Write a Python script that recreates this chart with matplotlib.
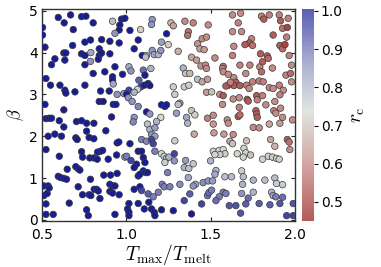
import matplotlib
matplotlib.use("Agg")
import matplotlib.pyplot as plt
from matplotlib.colors import LinearSegmentedColormap, Normalize
from matplotlib.cm import ScalarMappable

# ---- data ----
t_ratio = [
    # T_max/T_melt < 1
    0.597, 0.670, 0.735, 0.761, 0.632, 0.804, 0.686, 0.504, 0.504, 0.919,
    0.972, 0.962, 0.958, 0.933, 0.518, 0.577, 0.557, 0.630, 0.642, 0.636,
    0.682, 0.755, 0.788, 0.854, 0.903, 0.958, 0.735, 0.755, 0.790, 0.788,
    0.840, 0.840, 0.854, 0.834, 0.903, 0.755, 0.804, 0.873, 0.933, 0.978,
    0.919, 0.919, 0.923, 0.524, 0.551, 0.607, 0.636, 0.642, 0.696, 0.755,
    0.848, 0.899, 0.946, 0.986, 0.840, 0.863, 0.923, 0.939, 0.518, 0.630,
    0.524, 0.543, 0.557, 0.603, 0.630, 0.705, 0.735, 0.765, 0.808, 0.765,
    0.879, 0.913, 0.946, 0.956, 0.537, 0.577, 0.616, 0.701, 0.709, 0.780,
    0.808, 0.524, 0.603, 0.735, 0.741, 0.784, 0.808, 0.830, 0.848, 0.860,
    0.828, 0.893, 0.943, 0.992, 0.701, 0.715, 0.725, 0.650, 0.597, 0.611,
    0.630, 0.646, 0.788, 0.867, 0.907, 0.946, 0.512, 0.537, 0.543, 0.512,
    0.531, 0.524, 0.662, 0.715, 0.741, 0.780, 0.790, 0.810, 0.824, 0.834,
    0.844, 0.903, 0.919, 0.933, 0.903, 0.919, 0.958, 0.524, 0.567, 0.765,
    0.775, 0.933,
    # 1 <= T_max/T_melt < 1.5
    0.992, 1.154, 1.150, 1.085, 1.022, 1.265, 1.279, 1.348, 1.397, 1.486,
    1.368, 1.364, 1.239, 1.071, 1.209, 1.249, 1.047, 1.095, 1.120, 1.115,
    1.154, 1.166, 1.190, 1.205, 1.308, 1.423, 1.450, 1.476, 1.437, 1.462,
    1.387, 1.417, 1.443, 1.470, 1.476, 1.338, 1.352, 1.377, 1.423, 1.450,
    1.482, 1.476, 1.016, 1.028, 1.101, 1.111, 1.146, 1.075, 1.087, 1.107,
    1.130, 1.140, 1.016, 1.002, 1.012, 1.035, 1.071, 1.067, 1.047, 1.120,
    1.140, 1.209, 1.229, 1.239, 1.279, 1.288, 1.344, 1.371, 1.318, 1.308,
    1.387, 1.407, 1.298, 1.358, 1.364, 1.205, 1.180, 1.047, 1.041, 1.126,
    1.140, 1.170, 1.150, 1.170, 1.403, 1.482, 1.288, 1.091, 1.120, 1.150,
    1.160, 1.022, 1.071, 1.091, 1.002, 1.028, 1.061, 1.101, 1.111, 1.170,
    1.209, 1.225, 1.239, 1.253, 1.285, 1.285, 1.229, 1.352, 1.344, 1.371,
    1.397, 1.101, 1.115, 1.126, 1.071, 1.081, 1.047, 1.245, 1.368, 1.411,
    1.397, 1.456, 1.486, 1.318, 1.213, 1.225, 1.259, 1.190, 1.047, 1.081,
    1.091, 1.130, 1.160, 1.377, 1.344, 1.447, 1.482, 1.490, 1.016, 1.008,
    1.016, 1.016, 1.071, 1.107, 1.134, 1.150, 1.166, 1.170, 1.209, 1.279,
    1.387,
    # T_max/T_melt >= 1.5
    1.630, 1.678, 1.664, 1.802, 1.816, 1.848, 1.907, 1.915, 1.960, 1.927,
    1.955, 1.630, 1.684, 1.871, 1.951, 1.743, 1.729, 1.704, 1.749, 1.638,
    1.526, 1.630, 1.796, 1.836, 1.842, 1.911, 1.927, 1.941, 1.966, 1.674,
    1.733, 1.792, 1.808, 1.575, 1.571, 1.575, 1.605, 1.709, 1.802, 1.867,
    1.980, 1.947, 1.974, 1.638, 1.650, 1.638, 1.674, 1.605, 1.591, 1.618,
    1.713, 1.729, 1.788, 1.749, 1.812, 1.848, 1.871, 1.907, 1.931, 1.980,
    1.911, 1.506, 1.555, 1.575, 1.571, 1.634, 1.670, 1.717, 1.723, 1.773,
    1.777, 1.808, 1.828, 1.881, 1.670, 1.769, 1.773, 1.777, 1.875, 1.915,
    1.887, 1.516, 1.599, 1.605, 1.664, 1.674, 1.927, 1.986, 1.848, 1.911,
    1.516, 1.753, 1.788, 1.856, 1.955, 1.966, 1.970, 1.520, 1.579, 1.634,
    1.615, 1.630, 1.713, 1.881, 1.516, 1.551, 1.575, 1.585, 1.555, 1.526,
    1.658, 1.698, 1.709, 1.694, 1.737, 1.842, 1.867, 1.891, 1.907, 1.808,
    1.500, 1.532, 1.526, 1.585, 1.624, 1.684, 1.694, 1.753, 1.822, 1.881,
    1.891, 1.927, 1.690, 1.512, 1.506, 1.575, 1.591, 1.551, 1.532, 1.684,
    1.723, 1.753, 1.862, 1.871, 1.887, 1.927, 1.611, 1.650, 1.709, 1.788,
    1.852, 1.911, 1.990, 1.678, 1.951, 1.990,
]

beta = [
    4.84, 4.90, 4.86, 4.87, 4.71, 4.71, 4.55, 4.60, 4.42, 4.75,
    4.80, 4.66, 4.54, 4.46, 4.13, 3.85, 3.71, 3.99, 3.99, 3.82,
    4.17, 4.25, 4.30, 4.31, 4.27, 4.23, 3.97, 3.93, 4.00, 3.79,
    4.09, 3.93, 3.99, 3.84, 3.97, 3.71, 3.50, 3.54, 3.66, 3.48,
    3.42, 3.34, 3.25, 3.38, 3.22, 3.22, 3.10, 3.03, 3.06, 3.22,
    3.08, 3.08, 3.00, 3.02, 2.83, 2.83, 2.76, 2.76, 2.76, 2.63,
    2.42, 2.43, 2.43, 2.37, 2.22, 2.35, 2.37, 2.31, 2.31, 2.12,
    2.13, 2.46, 1.84, 1.86, 2.00, 2.05, 2.00, 1.96, 1.92, 1.97,
    1.94, 1.68, 1.52, 1.63, 1.50, 1.48, 1.48, 1.62, 1.64, 1.66,
    1.45, 1.45, 1.55, 1.50, 1.27, 1.22, 1.19, 1.21, 1.04, 1.01,
    0.99, 0.97, 0.97, 1.07, 1.07, 1.11, 0.81, 0.81, 0.76, 0.58,
    0.63, 0.38, 0.40, 0.79, 0.60, 0.60, 0.58, 0.73, 0.73, 0.69,
    0.51, 0.85, 0.81, 0.81, 0.68, 0.64, 0.60, 0.13, 0.13, 0.24,
    0.10, 0.13,
    4.82, 4.79, 4.67, 4.55, 4.53, 4.71, 4.64, 4.75, 4.71, 4.66,
    4.50, 4.41, 4.45, 4.30, 4.25, 4.19, 4.09, 3.93, 3.93, 3.89,
    4.05, 3.95, 3.95, 4.05, 4.03, 4.21, 4.33, 4.37, 4.09, 4.07,
    3.89, 3.82, 3.68, 3.70, 3.62, 3.63, 3.50, 3.50, 3.36, 3.30,
    3.36, 3.05, 3.66, 3.56, 3.58, 3.46, 3.62, 3.34, 3.18, 3.22,
    3.26, 3.21, 3.10, 3.00, 2.92, 2.83, 2.71, 3.12, 3.05, 2.58,
    2.53, 2.75, 2.71, 2.75, 3.18, 3.00, 3.18, 3.22, 2.79, 2.76,
    2.61, 2.51, 2.55, 2.45, 2.31, 2.45, 2.35, 2.45, 2.34, 2.29,
    2.16, 2.20, 2.04, 2.00, 2.05, 2.43, 1.89, 1.92, 1.88, 1.92,
    1.82, 1.82, 1.64, 1.64, 1.52, 1.42, 1.33, 1.49, 1.37, 1.64,
    1.58, 1.52, 1.47, 1.50, 1.58, 1.41, 1.37, 1.42, 1.25, 1.23,
    1.34, 1.17, 1.13, 1.13, 1.05, 1.09, 1.25, 1.13, 1.01, 0.85,
    0.81, 0.89, 0.93, 0.85, 0.85, 0.79, 0.79, 0.66, 0.73, 0.79,
    0.70, 0.62, 0.55, 0.62, 0.46, 0.38, 0.58, 0.65, 0.39, 0.26,
    0.18, 0.10, 0.39, 0.26, 0.42, 0.26, 0.18, 0.10, 0.24, 0.22,
    0.14,
    4.90, 4.94, 4.71, 4.87, 4.80, 4.90, 4.90, 4.76, 4.82, 4.58,
    4.60, 4.50, 4.50, 4.42, 4.37, 4.33, 4.23, 4.19, 4.17, 4.15,
    3.87, 3.93, 3.97, 3.92, 3.86, 4.17, 4.09, 4.19, 3.93, 3.70,
    3.70, 3.66, 3.78, 3.67, 3.62, 3.54, 3.48, 3.50, 3.54, 3.63,
    3.70, 3.46, 3.50, 3.40, 3.29, 3.21, 3.21, 3.22, 3.20, 3.29,
    3.22, 3.14, 3.32, 3.30, 3.30, 3.16, 3.14, 3.22, 3.10, 3.30,
    2.99, 3.06, 3.00, 2.97, 2.76, 2.89, 2.92, 2.88, 2.84, 2.97,
    2.87, 2.97, 2.75, 2.83, 2.69, 2.61, 2.53, 2.45, 2.61, 2.67,
    2.55, 2.50, 2.39, 2.31, 2.47, 2.51, 2.45, 2.39, 2.29, 2.31,
    2.29, 2.21, 2.20, 1.92, 1.92, 1.86, 1.68, 2.08, 2.05, 2.04,
    1.88, 1.82, 1.89, 1.76, 1.64, 1.66, 1.68, 1.58, 1.56, 1.56,
    1.58, 1.71, 1.60, 1.50, 1.55, 1.52, 1.50, 1.47, 1.45, 1.45,
    1.41, 1.18, 1.09, 1.03, 1.03, 1.17, 1.03, 0.95, 0.95, 1.00,
    0.87, 0.84, 0.85, 0.93, 0.71, 0.66, 0.63, 0.55, 0.46, 0.63,
    0.52, 0.66, 0.66, 0.58, 0.55, 0.54, 0.34, 0.34, 0.38, 0.39,
    0.36, 0.39, 0.39, 0.16, 0.10, 0.10,
]

r_c = [
    1.00, 1.00, 1.00, 1.00, 1.00, 1.00, 1.00, 1.00, 1.00, 0.78,
    1.00, 1.00, 1.00, 0.85, 1.00, 1.00, 1.00, 1.00, 1.00, 1.00,
    1.00, 1.00, 1.00, 1.00, 1.00, 1.00, 1.00, 1.00, 0.82, 0.85,
    1.00, 1.00, 1.00, 1.00, 1.00, 1.00, 1.00, 1.00, 1.00, 1.00,
    1.00, 1.00, 0.82, 1.00, 1.00, 1.00, 1.00, 1.00, 1.00, 1.00,
    1.00, 1.00, 0.85, 0.85, 1.00, 1.00, 1.00, 1.00, 1.00, 1.00,
    1.00, 1.00, 1.00, 1.00, 1.00, 1.00, 1.00, 1.00, 1.00, 1.00,
    1.00, 1.00, 1.00, 1.00, 1.00, 1.00, 1.00, 1.00, 1.00, 1.00,
    1.00, 1.00, 1.00, 1.00, 1.00, 1.00, 1.00, 1.00, 1.00, 1.00,
    1.00, 1.00, 1.00, 0.85, 1.00, 1.00, 1.00, 1.00, 1.00, 1.00,
    1.00, 1.00, 1.00, 1.00, 1.00, 1.00, 1.00, 1.00, 1.00, 1.00,
    1.00, 1.00, 1.00, 1.00, 1.00, 1.00, 1.00, 1.00, 1.00, 1.00,
    1.00, 1.00, 1.00, 1.00, 1.00, 1.00, 1.00, 1.00, 1.00, 1.00,
    1.00, 1.00,
    1.00, 0.85, 0.85, 0.72, 1.00, 0.68, 0.65, 0.62, 0.60, 0.62,
    0.58, 0.58, 1.00, 1.00, 0.83, 0.72, 1.00, 1.00, 0.82, 0.78,
    0.85, 0.82, 0.80, 0.85, 0.67, 0.63, 0.62, 0.62, 0.65, 0.64,
    0.66, 0.64, 0.63, 0.62, 0.62, 0.80, 0.70, 0.68, 0.78, 0.65,
    0.64, 0.64, 0.82, 0.85, 0.90, 1.00, 0.80, 0.92, 0.95, 1.00,
    1.00, 1.00, 0.95, 1.00, 0.85, 0.85, 0.87, 0.73, 0.80, 1.00,
    0.85, 1.00, 1.00, 1.00, 0.72, 0.76, 0.72, 0.72, 0.62, 0.78,
    0.70, 0.72, 0.84, 0.82, 0.80, 0.74, 0.80, 0.85, 0.87, 0.78,
    0.80, 0.84, 0.85, 0.83, 0.66, 0.60, 0.76, 0.88, 0.87, 0.95,
    0.95, 1.00, 1.00, 1.00, 0.88, 0.95, 1.00, 1.00, 1.00, 0.88,
    0.74, 0.76, 0.78, 0.80, 0.95, 0.85, 0.76, 0.84, 0.80, 0.78,
    0.77, 1.00, 1.00, 1.00, 1.00, 1.00, 1.00, 0.88, 0.82, 0.82,
    0.85, 0.86, 0.85, 0.86, 0.88, 0.88, 0.88, 0.88, 1.00, 1.00,
    0.95, 0.92, 0.88, 0.92, 0.95, 0.95, 0.90, 0.90, 1.00, 1.00,
    1.00, 1.00, 1.00, 1.00, 1.00, 1.00, 1.00, 1.00, 1.00, 1.00,
    1.00,
    0.62, 0.62, 0.60, 0.60, 0.55, 0.60, 0.60, 0.55, 0.60, 0.58,
    0.52, 0.62, 0.62, 0.55, 0.60, 0.60, 0.55, 0.55, 0.58, 0.62,
    0.62, 0.60, 0.55, 0.55, 0.57, 0.55, 0.57, 0.52, 0.60, 0.60,
    0.60, 0.60, 0.55, 0.58, 0.60, 0.62, 0.62, 0.62, 0.57, 0.62,
    0.62, 0.60, 0.57, 0.62, 0.55, 0.55, 0.55, 0.55, 0.55, 0.60,
    0.60, 0.62, 0.60, 0.60, 0.60, 0.60, 0.62, 0.60, 0.62, 0.62,
    0.60, 0.70, 0.62, 0.55, 0.62, 0.62, 0.62, 0.55, 0.55, 0.55,
    0.60, 0.60, 0.62, 0.62, 0.60, 0.55, 0.55, 0.55, 0.60, 0.62,
    0.62, 0.62, 0.62, 0.62, 0.55, 0.57, 0.62, 0.62, 0.66, 0.64,
    0.64, 0.62, 0.62, 0.66, 0.55, 0.58, 0.62, 0.64, 0.64, 0.62,
    0.66, 0.70, 0.70, 0.68, 0.72, 0.74, 0.74, 0.72, 0.72, 0.73,
    0.73, 0.73, 0.73, 0.75, 0.70, 0.73, 0.72, 0.72, 0.72, 0.73,
    0.80, 0.80, 0.82, 0.78, 0.78, 0.76, 0.78, 0.80, 0.78, 0.78,
    0.76, 0.76, 0.80, 0.84, 0.88, 0.88, 0.88, 0.88, 0.90, 0.85,
    0.90, 0.80, 0.80, 0.82, 0.88, 0.90, 0.93, 0.93, 0.92, 0.92,
    0.92, 0.93, 0.93, 0.93, 0.95, 0.95,
]

x_ticks = [0.5, 1.0, 1.5, 2.0]
y_ticks = [0, 1, 2, 3, 4, 5]
cbar_ticks = [0.5, 0.6, 0.7, 0.8, 0.9, 1.0]

# ---- styling ----
plt.rcParams["mathtext.fontset"] = "cm"
plt.rcParams["font.family"] = ["DejaVu Sans"]

vmin, vmax = 0.45, 1.005
# colour stops (value, rgb) for the markers
stops = [
    (0.45, (0.584, 0.075, 0.075)),
    (0.60, (0.760, 0.500, 0.485)),
    (0.74, (0.820, 0.855, 0.827)),
    (0.86, (0.540, 0.560, 0.745)),
    (1.005, (0.082, 0.100, 0.580)),
]
pos = [(v - vmin) / (vmax - vmin) for v, _ in stops]
cmap = LinearSegmentedColormap.from_list(
    "rc_map", list(zip(pos, [c for _, c in stops])))
# colour bar is drawn semi-transparent (lighter)
a = 0.7
cmap_bar = LinearSegmentedColormap.from_list(
    "rc_bar", list(zip(pos, [tuple(a * ch + (1 - a) for ch in c)
                             for _, c in stops])))
norm = Normalize(vmin=vmin, vmax=vmax)

fig = plt.figure(figsize=(3.81, 2.67), dpi=100)
ax = fig.add_axes([0.110, 0.172, 0.664, 0.794])
cax = fig.add_axes([0.793, 0.172, 0.031, 0.794])

sc = ax.scatter(t_ratio, beta, c=r_c, cmap=cmap, norm=norm, s=22,
                edgecolors="#3a3a3a", linewidths=0.5, zorder=3)

ax.set_xlim(0.5, 2.0)
ax.set_ylim(-0.03, 5.04)
ax.set_xticks(x_ticks)
ax.set_yticks(y_ticks)
ax.tick_params(direction="in", top=True, right=True, length=3,
               width=0.8, labelsize=10, pad=3, colors="#222222",
               labelcolor="black")
ax.tick_params(axis="x", pad=5)
for sp in ax.spines.values():
    sp.set_color("#333333")
    sp.set_linewidth(1.0)

ax.set_xlabel(r"$T_\mathrm{max}/T_\mathrm{melt}$", fontsize=14, labelpad=0)
ax.set_ylabel(r"$\beta$", fontsize=13, labelpad=2)

cb = fig.colorbar(ScalarMappable(norm=norm, cmap=cmap_bar), cax=cax)
cb.set_ticks(cbar_ticks)
cb.ax.tick_params(labelsize=10, length=3, width=0.8, pad=2)
cb.outline.set_visible(False)
cb.set_label(r"$r_\mathrm{c}$", fontsize=14, labelpad=4)

fig.savefig("out.png", dpi=100)
